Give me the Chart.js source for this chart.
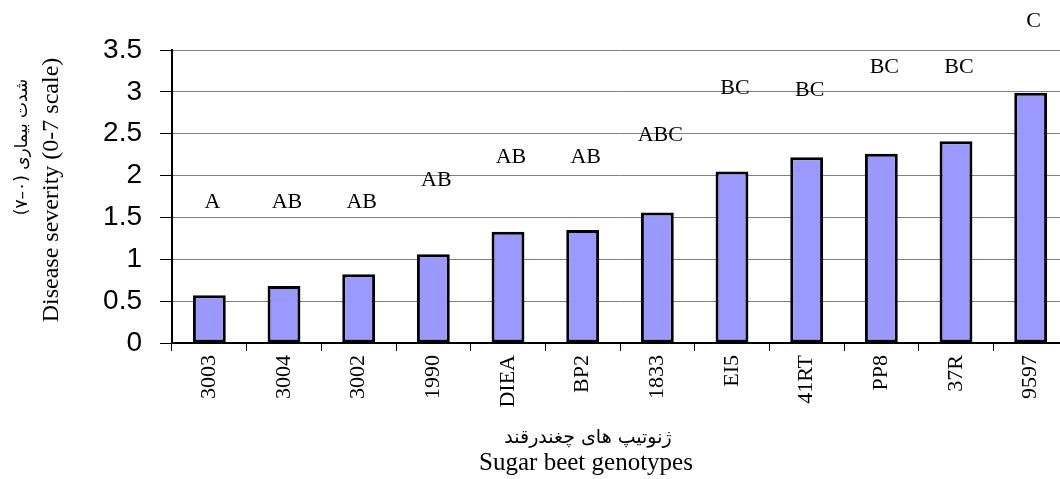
<!DOCTYPE html>
<html>
<head>
<meta charset="utf-8">
<script src="https://cdn.jsdelivr.net/npm/chart.js@4"></script>
<style>
    html, body { margin: 0; padding: 0; overflow: hidden; background: #fff; }
    #wrap { width: 1068px; height: 479px; position: relative; }
</style>
</head>
<body>
<div id="wrap"><canvas id="myChart"></canvas></div>
<script>
// genotypes and mean disease severity (0-7 scale)
const genotypes = ['3003', '3004', '3002', '1990', 'DIEA', 'BP2', '1833', 'EI5', '41RT', 'PP8', '37R', '9597'];
const severity = [0.57, 0.68, 0.82, 1.06, 1.33, 1.35, 1.56, 2.05, 2.22, 2.26, 2.41, 2.99];
// mean comparison letters and the height they sit at
const letters = ['A', 'AB', 'AB', 'AB', 'AB', 'AB', 'ABC', 'BC', 'BC', 'BC', 'BC', 'C'];
const letterY = [1.68, 1.68, 1.68, 1.95, 2.22, 2.22, 2.48, 3.04, 3.02, 3.30, 3.30, 3.84];
const yTicks = [0, 0.5, 1, 1.5, 2, 2.5, 3, 3.5];

const textPlugin = {
    id: 'textPlugin',
    afterDraw(chart) {
        const ctx = chart.ctx;
        const x = chart.scales.x, y = chart.scales.y;
        ctx.save();
        ctx.fillStyle = '#000';
        ctx.textAlign = 'center';
        ctx.textBaseline = 'middle';
        ctx.font = '22px "Liberation Serif"';
        letters.forEach((l, i) => {
            ctx.fillText(l, x.getPixelForValue(i) + 3, y.getPixelForValue(letterY[i]));
        });

        // y axis title, two lines
        ctx.save();
        ctx.translate(52, 190);
        ctx.rotate(-Math.PI / 2);
        ctx.font = '24px "Liberation Serif"';
        ctx.fillText('Disease severity (0-7 scale)', 0, 0);
        ctx.restore();
        ctx.save();
        ctx.translate(23, 147);
        ctx.rotate(-Math.PI / 2);
        ctx.font = '17px "DejaVu Sans"';
        ctx.fillText('شدت بیماری (۰–۷)', 0, 0);
        ctx.restore();

        // x axis title, two lines
        ctx.font = '19px "DejaVu Sans"';
        ctx.fillText('ژنوتیپ های چغندرقند', 588, 438);
        ctx.font = '25px "Liberation Serif"';
        ctx.fillText('Sugar beet genotypes', 586, 463);
        ctx.restore();
    }
};

const ctx = document.getElementById('myChart').getContext('2d');
const chart = new Chart(ctx, {
    type: 'bar',
    data: {
        labels: genotypes,
        datasets: [{
            data: severity,
            backgroundColor: '#9999FF',
            borderColor: '#000',
            borderWidth: 3,
            borderSkipped: false,
            categoryPercentage: 1,
            barPercentage: 0.44
        }]
    },
    options: {
        responsive: true,
        maintainAspectRatio: false,
        animation: false,
        layout: { padding: { top: 50, left: 0, right: 0, bottom: 0 } },
        plugins: {
            legend: { display: false },
            tooltip: { enabled: false }
        },
        scales: {
            x: {
                grid: { drawOnChartArea: false, tickLength: 8, tickColor: '#000', offset: true },
                border: { color: '#000', width: 2 },
                ticks: {
                    color: '#000',
                    font: { family: 'Liberation Serif', size: 22 },
                    minRotation: 90,
                    maxRotation: 90,
                    autoSkip: false,
                    padding: 4
                },
                afterFit: s => { s.height = 136; }
            },
            y: {
                min: 0,
                max: 3.5,
                afterBuildTicks: s => { s.ticks = yTicks.map(v => ({ value: v })); },
                ticks: {
                    color: '#000',
                    font: { family: 'Liberation Sans', size: 28 },
                    padding: 18,
                    callback: v => String(v)
                },
                grid: { color: '#808080', tickColor: '#000', tickLength: 12 },
                border: { color: '#000', width: 2 },
                afterFit: s => { s.width = 172; }
            }
        }
    },
    plugins: [textPlugin]
});
</script>
</body>
</html>
